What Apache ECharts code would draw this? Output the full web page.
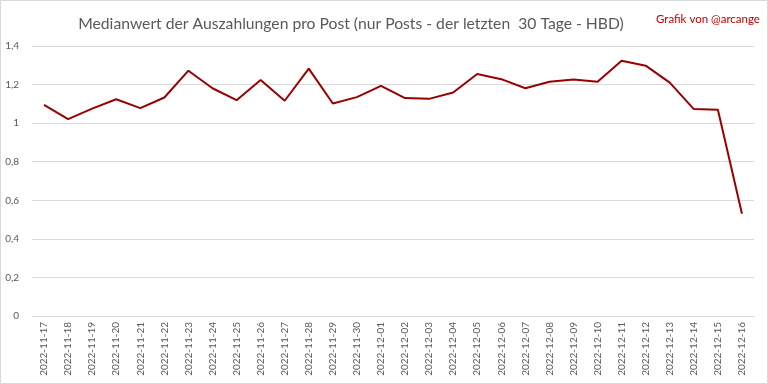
<!DOCTYPE html>
<html><head><meta charset="utf-8">
<script src="https://cdn.jsdelivr.net/npm/echarts@6/dist/echarts.min.js"></script>
<style>html,body{margin:0;padding:0;background:#fff}#c{width:768px;height:384px;box-sizing:border-box;border:1px solid #d9d9d9}</style>
</head><body><div id="c"></div>
<script>
const categories = ["2022-11-17","2022-11-18","2022-11-19","2022-11-20","2022-11-21","2022-11-22","2022-11-23","2022-11-24","2022-11-25","2022-11-26","2022-11-27","2022-11-28","2022-11-29","2022-11-30","2022-12-01","2022-12-02","2022-12-03","2022-12-04","2022-12-05","2022-12-06","2022-12-07","2022-12-08","2022-12-09","2022-12-10","2022-12-11","2022-12-12","2022-12-13","2022-12-14","2022-12-15","2022-12-16"];
const medianValues = [1.095,1.021,1.075,1.124,1.078,1.133,1.272,1.181,1.119,1.224,1.116,1.283,1.102,1.135,1.193,1.130,1.126,1.159,1.255,1.228,1.181,1.215,1.226,1.215,1.324,1.298,1.210,1.073,1.069,0.530];
const titleText = "Medianwert der Auszahlungen pro Post (nur Posts - der letzten  30 Tage - HBD)";
const creditText = "Grafik von @arcange";

const chart = echarts.init(document.getElementById('c'), null, {renderer:'canvas'});
chart.setOption({
  animation:false,
  title:[
    {text:titleText,left:345,top:10,textAlign:'center',textStyle:{fontFamily:'Lato',fontWeight:'normal',fontSize:15.7,color:'#595959'}},
    {text:creditText,left:650,top:7,textStyle:{fontFamily:'Lato',fontWeight:'normal',fontSize:11.5,color:'#c00000'}}
  ],
  grid:{left:31,right:13,top:45,bottom:67,containLabel:false},
  xAxis:{type:'category',data:categories,boundaryGap:true,
    axisLine:{lineStyle:{color:'#d9d9d9'}},axisTick:{show:false},
    axisLabel:{rotate:90,interval:0,fontFamily:'Lato',fontSize:10,color:'#595959',margin:6}},
  yAxis:{type:'value',min:0,max:1.4,interval:0.2,
    axisLine:{show:false},axisTick:{show:false},
    splitLine:{lineStyle:{color:'#d9d9d9',width:1}},
    axisLabel:{fontFamily:'Lato',fontSize:10,color:'#595959',margin:13,
      formatter:v=>String(Math.round(v*10)/10).replace('.',',')}},
  series:[{type:'line',data:medianValues,symbol:'none',lineStyle:{color:'#990000',width:2}}]
});
</script></body></html>
